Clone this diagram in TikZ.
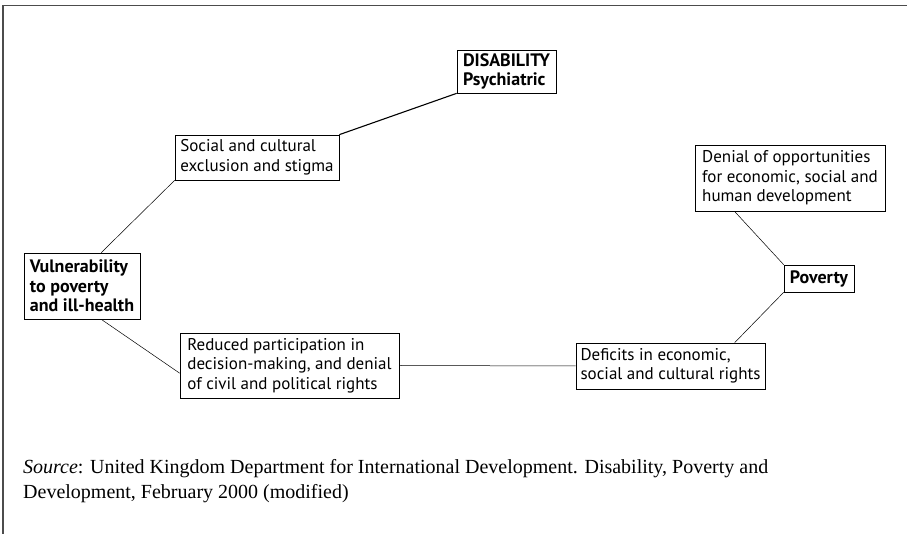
\documentclass[tikz,border=0pt]{standalone}
\usepackage{fontspec}
\setmainfont{Liberation Serif}
\newfontfamily\boxfont{PT Sans}
\tikzset{
  factor/.style={draw, line width=0.7pt, inner xsep=3pt, inner ysep=2pt, align=left, font=\boxfont\fontsize{17}{19.5}\selectfont},
  keyfactor/.style={factor, font=\boxfont\bfseries\fontsize{18}{19.5}\selectfont},
  link/.style={line width=0.5pt}
}
\begin{document}
\begin{tikzpicture}[x=1pt,y=1pt]
	\useasboundingbox (0,0) rectangle (907,534);
	\draw [line width=1.3pt, black!70] (907,528.5) -- (3,528.5) -- (3,0);
	% boxes
	\node [keyfactor, minimum width=99pt, minimum height=43pt] (disab) at (506.5,462.5) {DISABILITY\\Psychiatric};
	\node [factor, minimum width=164pt, minimum height=45pt] (social) at (257,376.5) {Social and cultural\\exclusion and stigma};
	\node [factor, minimum width=190pt, minimum height=66pt] (denial) at (790,356) {Denial of opportunities\\for economic, social and\\human development};
	\node [keyfactor, minimum width=70pt, minimum height=27pt] (pov) at (819,255.5) {Poverty};
	\node [keyfactor, minimum width=116pt, minimum height=66pt] (vuln) at (82,248) {Vulnerability\\to poverty\\and ill-health};
	\node [factor, minimum width=219pt, minimum height=65pt] (reduced) at (289.5,168.5) {Reduced participation in\\decision-making, and denial\\of civil and political rights};
	\node [factor, minimum width=189pt, minimum height=46pt] (deficit) at (670.5,168) {Deficits in economic,\\social and cultural rights};
	% links
	\draw [link, line width=1.1pt] (social.north east) -- (disab.south west);
	\draw [link] (vuln.60) -- (social.south west);
	\draw [link] (vuln.-60) -- (reduced.184);
	\draw [link] (reduced.east) -- (deficit.west);
	\draw [link] (deficit.20) -- (pov.south west);
	\draw [link] (denial.211) -- (pov.north west);
	% source
	\node [anchor=base west, inner sep=0pt, align=left, font=\fontsize{20}{25}\selectfont] (src) at (23,35) {\textit{Source}: United Kingdom Department for International Development. Disability, Poverty and\\Development, February 2000 (modified)};
\end{tikzpicture}
\end{document}
